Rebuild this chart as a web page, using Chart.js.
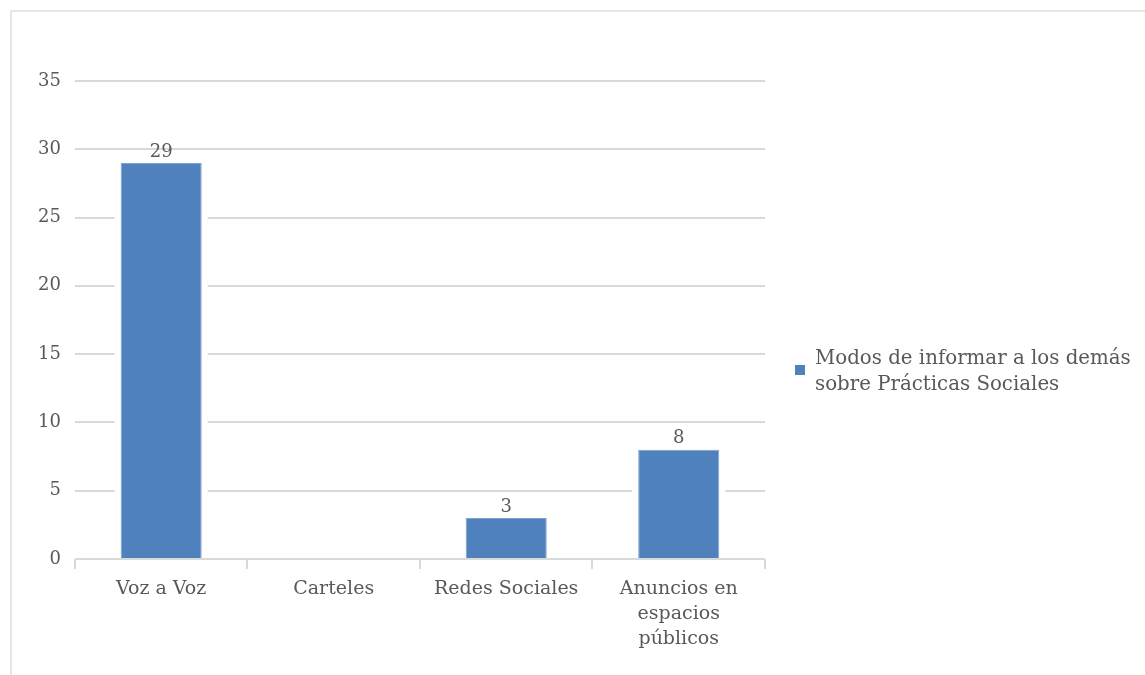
<!DOCTYPE html>
<html>
<head>
<meta charset="utf-8">
<script src="https://cdn.jsdelivr.net/npm/chart.js@4/dist/chart.umd.min.js"></script>
<style>
  html, body { margin: 0; padding: 0; background: #fff; }
  #frame { position: absolute; left: 10px; top: 10px; width: 1135px; height: 665px;
           border-top: 2px solid #e6e6e6; border-left: 2px solid #e6e6e6; box-sizing: border-box; }
  #chartBox { position: absolute; left: 0; top: 0; width: 1133px; height: 663px; }
  #legend { position: absolute; left: 783px; top: 333px; font-family: "DejaVu Serif", serif;
            font-size: 19.8px; color: #595959; line-height: 26px; white-space: nowrap; }
  #legend .sw { position: absolute; left: 0; top: 20px; width: 10px; height: 10px; background: #4f81bd; }
  #legend .tx { margin-left: 20px; }
</style>
</head>
<body>
<div id="frame">
  <div id="chartBox"><canvas id="chart_modos"></canvas></div>
  <div id="legend"></div>
</div>
<script>
// Data of the chart
const categories = ['Voz a Voz', 'Carteles', 'Redes Sociales', ['Anuncios en', 'espacios', 'públicos']];
const seriesLabel = 'Modos de informar a los demás sobre Prácticas Sociales';
const seriesValues = [29, 0, 3, 8];
const yTicks = [0, 5, 10, 15, 20, 25, 30, 35];

const barColor = '#4f81bd';
const textColor = '#595959';
const gridColor = '#d9d9d9';
const fontFamily = '"DejaVu Serif", serif';

// HTML legend (the text wraps on two lines as in the original)
document.getElementById('legend').innerHTML =
    '<div class="sw"></div><div class="tx">Modos de informar a los demás<br>sobre Prácticas Sociales</div>';

// White halo around bars, so the gridlines stop short of them
const barHalo = {
    id: 'barHalo',
    beforeDatasetsDraw(chart) {
        const ctx = chart.ctx;
        const meta = chart.getDatasetMeta(0);
        ctx.save();
        ctx.fillStyle = '#ffffff';
        meta.data.forEach((bar, i) => {
            if (!seriesValues[i]) return;
            const w = bar.width;
            ctx.fillRect(bar.x - w / 2 - 6, bar.y - 3, w + 12, bar.base - bar.y + 3);
        });
        ctx.restore();
    }
};

// Value labels above the bars
const valueLabels = {
    id: 'valueLabels',
    afterDatasetsDraw(chart) {
        const ctx = chart.ctx;
        const meta = chart.getDatasetMeta(0);
        ctx.save();
        ctx.font = '18px ' + fontFamily;
        ctx.fillStyle = textColor;
        ctx.textAlign = 'center';
        ctx.textBaseline = 'bottom';
        meta.data.forEach((bar, i) => {
            if (!seriesValues[i]) return;
            ctx.fillText(String(seriesValues[i]), bar.x, bar.y - 2);
        });
        ctx.restore();
    }
};

const ctx = document.getElementById('chart_modos').getContext('2d');
const modosChart = new Chart(ctx, {
    type: 'bar',
    data: {
        labels: categories,
        datasets: [{
            label: seriesLabel,
            data: seriesValues,
            backgroundColor: barColor,
            borderColor: '#7ea3d3',
            borderWidth: 1,
            categoryPercentage: 1.0,
            barPercentage: 0.47
        }]
    },
    options: {
        responsive: true,
        maintainAspectRatio: false,
        animation: false,
        layout: { padding: { top: 69, right: 380, left: 12, bottom: 16 } },
        plugins: {
            legend: { display: false },
            tooltip: { enabled: false }
        },
        scales: {
            y: {
                min: 0,
                max: 35,
                afterBuildTicks: axis => { axis.ticks = yTicks.map(v => ({ value: v })); },
                border: { display: false },
                grid: { color: gridColor, lineWidth: 2, drawTicks: false },
                ticks: { color: textColor, font: { family: fontFamily, size: 18 }, padding: 14 }
            },
            x: {
                offset: true,
                border: { display: false },
                grid: { offset: true, drawOnChartArea: false, color: gridColor, lineWidth: 2, tickLength: 10 },
                ticks: { color: textColor, font: { family: fontFamily, size: 19, lineHeight: 1.3 }, maxRotation: 0, padding: 8 }
            }
        }
    },
    plugins: [barHalo, valueLabels]
});
</script>
</body>
</html>
